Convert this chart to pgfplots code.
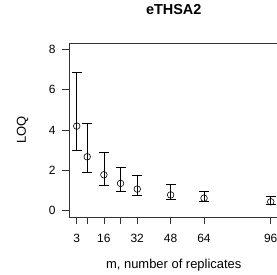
\documentclass[border=0pt]{standalone}
\usepackage{pgfplots}
\pgfplotsset{compat=1.18}
\usepackage{pgfplotstable}
\usepackage{fontspec}
\setmainfont{Liberation Sans}
\pgfplotstableread{
x y ep em
3 4.20 2.68 1.19
8 2.68 1.65 0.76
16 1.79 1.09 0.53
24 1.36 0.82 0.38
32 1.08 0.69 0.30
48 0.79 0.50 0.21
64 0.63 0.36 0.18
96 0.45 0.25 0.12
}\loqdata
\begin{document}
\begin{tikzpicture}
\begin{axis}[
  at={(0,0)}, anchor=south west,
  scale only axis,
  width=209.5bp, height=174.3bp,
  xmin=-0.72, xmax=99.72,
  ymin=-0.32, ymax=8.32,
  axis line style={line width=0.7bp, black!80},
  xtick={3,8,16,24,32,48,64,96},
  xticklabels={3,,16,,32,48,64,96},
  ytick={0,2,4,6,8},
  tick align=outside,
  xtick pos=bottom, ytick pos=left,
  major tick length=7bp,
  tick style={line width=0.7bp, black!80},
  /pgf/number format/assume math mode=true,
  tick label style={font=\fontsize{12}{14}\selectfont},
  xticklabel style={yshift=-6bp},
  yticklabel style={xshift=-3bp},
  title={\textbf{eTHSA2}},
  title style={font=\fontsize{14.5}{17}\selectfont, at={(0.5,1)}, anchor=base, yshift=23bp},
  xlabel={m, number of replicates},
  ylabel={LOQ},
  label style={font=\fontsize{13}{15}\selectfont},
  xlabel style={at={(0.5,0)}, anchor=base, yshift=-51bp},
  ylabel style={at={(0,0.5)}, anchor=base, yshift=43bp},
]
\addplot+[only marks, black, mark=o, mark size=3.3bp, line width=0.6bp,
  mark options={black, line width=0.6bp},
  error bars/.cd, y dir=both, y explicit, error mark=|,
  error mark options={black, line width=0.7bp, mark size=5bp},
  error bar style={black, line width=0.7bp}]
  table[x=x, y=y, y error plus=ep, y error minus=em] {\loqdata};
\end{axis}
\pgfresetboundingbox
\path (-69bp,-57.7bp) rectangle (208bp,217.3bp);
\end{tikzpicture}
\end{document}
